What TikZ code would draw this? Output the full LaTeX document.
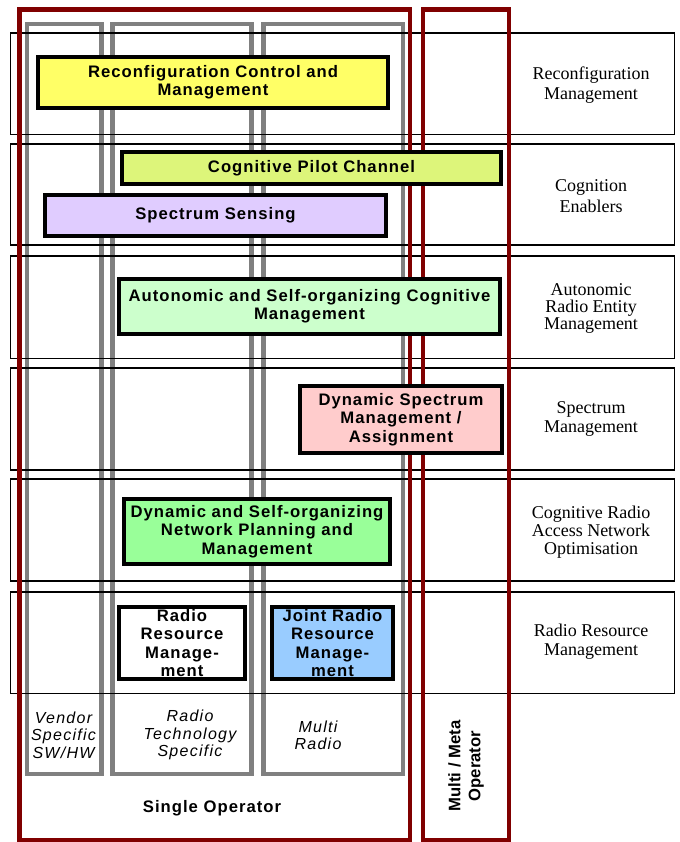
\documentclass[tikz,border=0pt]{standalone}
\usepackage{fontspec}
\setmainfont{Liberation Serif}
\newfontfamily\boxfont[LetterSpace=6]{Liberation Sans}
\newfontfamily\colfont[LetterSpace=8]{Liberation Sans}
\newfontfamily\opfont{Liberation Sans}
\newfontfamily\labfont{Liberation Serif}
\definecolor{darkred}{RGB}{128,0,0}
\definecolor{colgray}{RGB}{128,128,128}
\definecolor{cReconf}{RGB}{255,255,102}
\definecolor{cPilot}{RGB}{221,245,122}
\definecolor{cSense}{RGB}{224,204,255}
\definecolor{cAuto}{RGB}{204,255,204}
\definecolor{cDsm}{RGB}{255,204,204}
\definecolor{cNet}{RGB}{153,255,153}
\definecolor{cJrrm}{RGB}{153,204,255}
\begin{document}
\begin{tikzpicture}[x=0.75pt,y=-0.75pt,
  rowbox/.style={draw=black, line width=1.3pt},
  graycol/.style={draw=colgray, line width=3.3pt},
  redbox/.style={draw=darkred, line width=3.3pt},
  box/.style={draw=black, line width=3pt, inner sep=1pt, align=center,
    font=\boxfont\bfseries\fontsize{12.5}{13.75}\selectfont},
  rowlabel/.style={align=center, inner sep=0pt},
  collabel/.style={align=center, inner sep=0pt,
    font=\colfont\itshape\fontsize{12}{13}\selectfont},
  oplabel/.style={align=center, inner sep=0pt,
    font=\boxfont\bfseries\fontsize{12.5}{13.75}\selectfont}
]
\useasboundingbox (0,0) rectangle (680,842);
% gray columns
\draw[graycol] (27,24) rectangle (101.5,774);
\draw[graycol] (112.5,24) rectangle (251.5,774);
\draw[graycol] (263.5,24) rectangle (403,774);
% rows
\draw[rowbox] (10.5,33) rectangle (674.5,134.5);
\draw[rowbox] (10.5,144) rectangle (674.5,245);
\draw[rowbox] (10.5,256) rectangle (674.5,358.5);
\draw[rowbox] (10.5,368) rectangle (674.5,470);
\draw[rowbox] (10.5,479) rectangle (674.5,581);
\draw[rowbox] (10.5,592) rectangle (674.5,693.5);
% red operator boxes
\draw[redbox] (19.5,9.5) rectangle (410,840);
\draw[redbox] (423,9.5) rectangle (509,840);
% function boxes
\node[box, fill=cReconf, minimum width=262.5pt, minimum height=38.25pt] (rcm) at (213,82.5) {Reconfiguration Control and\\Management};
\node[box, fill=cPilot, minimum width=284.25pt, minimum height=24pt] (cpc) at (311.5,168) {Cognitive Pilot Channel};
\node[box, fill=cSense, minimum width=255.75pt, minimum height=30.75pt] (ss) at (215.5,215.5) {Spectrum Sensing};
\node[box, fill=cAuto, minimum width=285.75pt, minimum height=41.25pt] (ascm) at (309.5,306.5) {Autonomic and Self-organizing Cognitive\\Management};
\node[box, fill=cDsm, minimum width=151.5pt, minimum height=50.25pt] (dsm) at (401,419.5) {Dynamic Spectrum\\Management /\\Assignment};
\node[box, fill=cNet, minimum width=199.5pt, minimum height=48.75pt] (dsnpm) at (257,531.5) {Dynamic and Self-organizing\\Network Planning and\\Management};
\node[box, fill=white, minimum width=94.5pt, minimum height=54pt] (rrm) at (182,643) {Radio\\Resource\\Manage-\\ment};
\node[box, fill=cJrrm, minimum width=90.75pt, minimum height=54pt] (jrrm) at (332.5,643) {Joint Radio\\Resource\\Manage-\\ment};
% row labels
\node[rowlabel, font=\labfont\fontsize{13.5}{15.5}\selectfont] (l1) at (591,85) {Reconfiguration\\Management};
\node[rowlabel, font=\labfont\fontsize{13.5}{15.5}\selectfont] (l2) at (591,196) {Cognition\\Enablers};
\node[rowlabel, font=\labfont\fontsize{13.5}{12.75}\selectfont] (l3) at (591,308) {Autonomic\\Radio Entity\\Management};
\node[rowlabel, font=\labfont\fontsize{13.5}{14.5}\selectfont] (l4) at (591,419) {Spectrum\\Management};
\node[rowlabel, font=\labfont\fontsize{13.5}{13.75}\selectfont] (l5) at (591,532) {Cognitive Radio\\Access Network\\Optimisation};
\node[rowlabel, font=\labfont\fontsize{13.5}{14.5}\selectfont] (l6) at (591,642) {Radio Resource\\Management};
% column labels
\node[collabel] (c1) at (63.5,735) {Vendor\\Specific\\SW/HW};
\node[collabel] (c2) at (190,735) {Radio\\Technology\\Specific};
\node[collabel] (c3) at (318,735) {Multi\\Radio};
% operator labels
\node[oplabel] (so) at (212,808) {Single Operator};
\node[oplabel, rotate=90, font=\opfont\bfseries\fontsize{12.5}{15}\selectfont] (mmo) at (466,766) {Multi / Meta\\Operator};
\end{tikzpicture}
\end{document}
